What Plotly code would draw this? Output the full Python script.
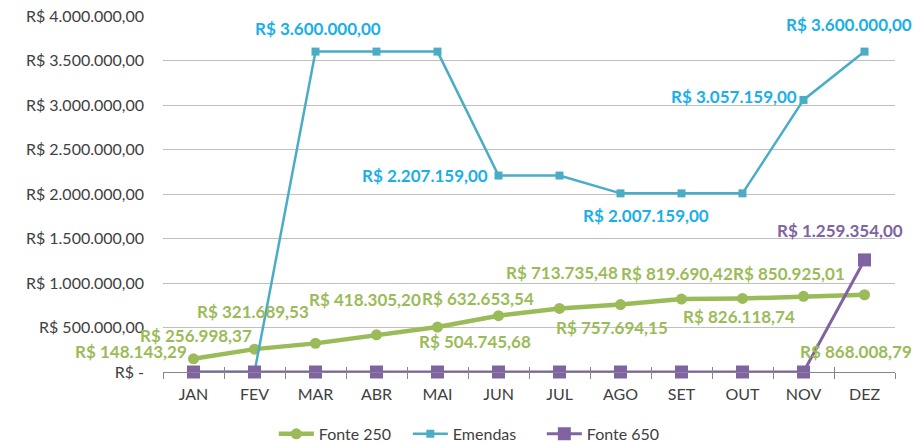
import plotly.graph_objects as go

months = ["JAN", "FEV", "MAR", "ABR", "MAI", "JUN", "JUL", "AGO", "SET", "OUT", "NOV", "DEZ"]
fonte250 = [148143.29, 256998.37, 321689.53, 418305.20, 504745.68, 632653.54,
            713735.48, 757694.15, 819690.42, 826118.74, 850925.01, 868008.79]
emendas = [0, 0, 3600000, 3600000, 3600000, 2207159, 2207159, 2007159, 2007159, 2007159, 3057159, 3600000]
fonte650 = [0, 0, 0, 0, 0, 0, 0, 0, 0, 0, 0, 1259354]

ytick_vals = [0, 500000, 1000000, 1500000, 2000000, 2500000, 3000000, 3500000, 4000000]

# which points are labelled, and label offsets (pixels: dx right, dy up)
f250_offsets = [(-63, 7), (-59, 14), (-63, 32), (-12, 35), (37, -14), (-21, 17),
                (2, 36), (-9, -23), (-5, 26), (-4, -18), (-15, 23), (-9, -57)]
em_offsets = {2: (2, 23), 5: (-74, 0), 7: (25, -22), 10: (-70, 3), 11: (-16, 27)}
f650_offsets = {11: (-25, 29)}


def brl(v):
    if v == 0:
        return "R$ -"
    s = f"{v:,.2f}"  # 1,234,567.89
    s = s.replace(",", "X").replace(".", ",").replace("X", ".")
    return "R$ " + s


C250 = "#9BBB59"
CEM = "#4BACC6"
CEM_T = "#1AAFE8"
C650 = "#8064A2"
FONT = "Lato"
LBL = 17
TXT = 16

fig = go.Figure()
fig.add_trace(go.Scatter(x=months, y=fonte250, name="Fonte 250", mode="lines+markers",
                         line=dict(color=C250, width=4.5),
                         marker=dict(symbol="circle", size=11, color=C250), cliponaxis=False))
fig.add_trace(go.Scatter(x=months, y=emendas, name="Emendas", mode="lines+markers",
                         line=dict(color=CEM, width=2.5),
                         marker=dict(symbol="square", size=8, color=CEM), cliponaxis=False))
fig.add_trace(go.Scatter(x=months, y=fonte650, name="Fonte 650", mode="lines+markers",
                         line=dict(color=C650, width=3),
                         marker=dict(symbol="square", size=13, color=C650), cliponaxis=False))

ann = []
for i, v in enumerate(fonte250):
    dx, dy = f250_offsets[i]
    ann.append(dict(x=months[i], y=v, text=brl(v), showarrow=False, xshift=dx, yshift=dy,
                    font=dict(family=FONT, size=LBL, color=C250, weight="bold")))
for i, (dx, dy) in em_offsets.items():
    ann.append(dict(x=months[i], y=emendas[i], text=brl(emendas[i]), showarrow=False,
                    xshift=dx, yshift=dy,
                    font=dict(family=FONT, size=LBL, color=CEM_T, weight="bold")))
for i, (dx, dy) in f650_offsets.items():
    ann.append(dict(x=months[i], y=fonte650[i], text=brl(fonte650[i]), showarrow=False,
                    xshift=dx, yshift=dy,
                    font=dict(family=FONT, size=LBL, color=C650, weight="bold")))

boundaries = [i - 0.5 for i in range(len(months) + 1)]

fig.update_layout(
    width=918, height=443,
    margin=dict(l=163, r=23, t=16, b=71, autoexpand=False),
    paper_bgcolor="white", plot_bgcolor="white",
    font=dict(family=FONT, size=TXT, color="#404040"),
    annotations=ann,
    showlegend=True,
    legend=dict(orientation="h", x=0.426, xanchor="center", y=-0.174, yanchor="middle",
                font=dict(family=FONT, size=TXT, color="#404040"), itemwidth=35,
                entrywidth=84, bgcolor="rgba(0,0,0,0)"),
    xaxis=dict(type="category", categoryarray=months, tickson="boundaries",
               ticks="outside", ticklen=6, tickcolor="#868686", showgrid=False,
               showline=True, linecolor="#868686", linewidth=1,
               ticklabelstandoff=8, tickfont=dict(size=TXT, color="#404040"),
               range=[-0.5, 11.5], zeroline=False, automargin=False),
    xaxis2=dict(overlaying="x", range=[-0.5, 11.5], tickmode="array", tickvals=boundaries,
                ticks="inside", ticklen=5, tickcolor="#868686", showticklabels=False,
                showgrid=False, showline=False, zeroline=False, side="bottom", automargin=False),
    yaxis=dict(range=[0, 4000000], tickmode="array", tickvals=ytick_vals,
               ticktext=[brl(v) for v in ytick_vals], showgrid=True,
               gridcolor="#BFBFBF", gridwidth=1, zeroline=False, showline=False,
               ticks="", ticklabelstandoff=18, tickfont=dict(size=TXT, color="#404040"),
               automargin=False),
)
# invisible trace to activate xaxis2
fig.add_trace(go.Scatter(x=[boundaries[0]], y=[0], xaxis="x2", mode="markers",
                         marker=dict(opacity=0), showlegend=False, hoverinfo="skip"))

fig.write_html("out.html", config={"displayModeBar": False},
               post_script="document.body.style.margin='0';document.body.style.overflow='hidden';")
